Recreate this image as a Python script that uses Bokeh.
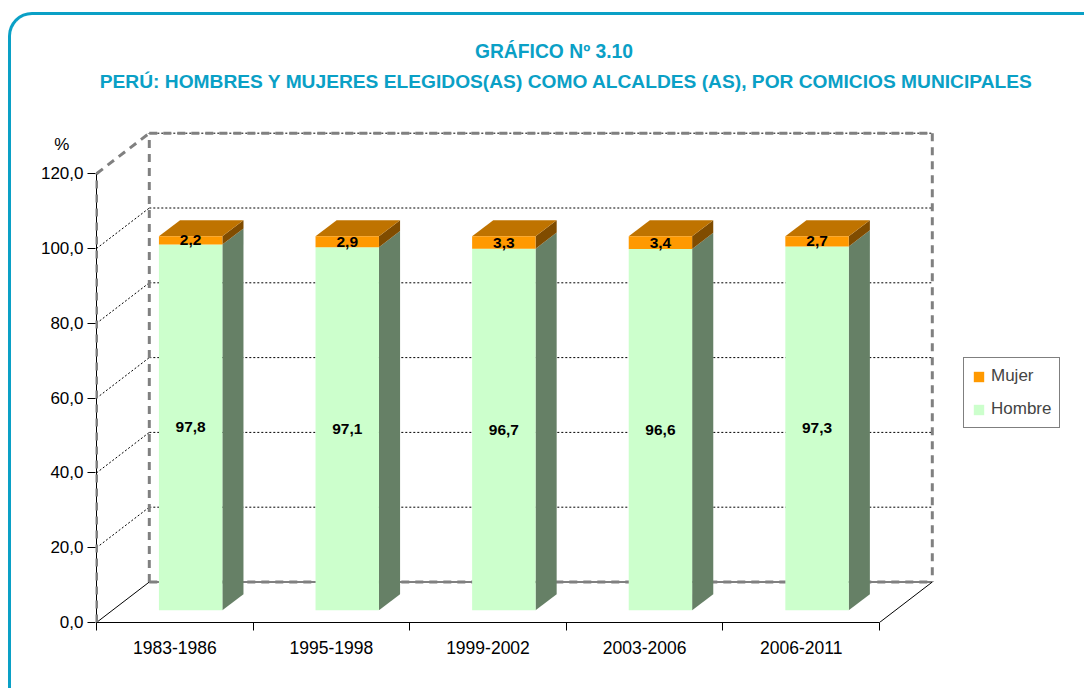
from bokeh.plotting import figure
from bokeh.models import (Range1d, FixedTicker, CustomJSTickFormatter, Label, Legend,
                          LegendItem, ColumnDataSource)
from bokeh.core.properties import value
from bokeh.embed import file_html
from bokeh.resources import INLINE

# ---------------- data ----------------
categories = ["1983-1986", "1995-1998", "1999-2002", "2003-2006", "2006-2011"]
hombre = [97.8, 97.1, 96.7, 96.6, 97.3]
mujer = [2.2, 2.9, 3.3, 3.4, 2.7]
y_ticks = [0, 20, 40, 60, 80, 100, 120]
series_names = ["Mujer", "Hombre"]
title1 = "GRÁFICO Nº 3.10"
title2 = "PERÚ: HOMBRES Y MUJERES ELEGIDOS(AS) COMO ALCALDES (AS), POR COMICIOS MUNICIPALES"
unit_label = "%"

# ---------------- geometry / style ----------------
OX, OY = 11, 15        # canvas origin inside the page frame (px)
W, H = 1076, 676
FRAME_L, FRAME_B = 95, 622     # page px
ML = FRAME_L - OX
MB = (OY + H) - FRAME_B
PX_X = 156.6           # px per category
PX_Y = 3.74            # px per percent
X0_PAGE = 96           # page x of category 0
DX = 52.8 / PX_X       # depth offset (category units)
DY = 40.5 / PX_Y       # depth offset (percent units)
F0, F1 = 0.3, 0.7      # bar depth span
HW = 0.2025            # half bar width
FONT = "Liberation Sans"
TEAL = "#0aa0c6"

n = len(categories)
x_start = -(X0_PAGE - FRAME_L) / PX_X
x_end = (OX + W - X0_PAGE) / PX_X
y_end = (FRAME_B - OY) / PX_Y
ymax = y_ticks[-1]
pct_pos = (FRAME_B - 143.5) / PX_Y

p = figure(width=W, height=H, x_range=Range1d(x_start, x_end), y_range=Range1d(0, y_end),
           output_backend="svg", toolbar_location=None,
           min_border_left=ML, min_border_right=0, min_border_top=0, min_border_bottom=MB,
           outline_line_color=None, background_fill_color=None, border_fill_color=None,
           styles={"border-left": f"3px solid {TEAL}", "border-top": f"3px solid {TEAL}",
                   "border-top-left-radius": "24px", "margin-left": "8px",
                   "margin-top": "12px"})
p.xgrid.visible = False
p.ygrid.visible = False

# y axis (minor ticks act as the visible tick marks; the extra major tick carries "%")
p.yaxis.ticker = FixedTicker(ticks=y_ticks + [pct_pos], minor_ticks=y_ticks)
p.yaxis.formatter = CustomJSTickFormatter(
    args=dict(lim=ymax + 1, unit=unit_label),
    code="return tick > lim ? unit + '\\u00a0\\u00a0\\u00a0' : tick.toFixed(1).replace('.', ',')")
p.yaxis.bounds = (0, pct_pos)
p.yaxis.major_tick_out = 0
p.yaxis.major_tick_in = 0
p.yaxis.minor_tick_out = 8
p.yaxis.minor_tick_in = 0
p.yaxis.minor_tick_line_color = "black"
p.yaxis.major_label_standoff = 4
p.yaxis.major_label_text_font = FONT
p.yaxis.major_label_text_font_size = "17px"
p.yaxis.major_label_text_color = "black"
p.yaxis.axis_line_color = None

# x axis (labels centred, tick marks at category boundaries)
p.xaxis.ticker = FixedTicker(ticks=[i + 0.5 for i in range(n)], minor_ticks=list(range(n + 1)))
p.xaxis.major_label_overrides = {i + 0.5: c for i, c in enumerate(categories)}
p.xaxis.bounds = (0, n)
p.xaxis.major_tick_out = 0
p.xaxis.major_tick_in = 0
p.xaxis.minor_tick_out = 8
p.xaxis.minor_tick_in = 0
p.xaxis.minor_tick_line_color = "black"
p.xaxis.major_label_standoff = 10
p.xaxis.major_label_text_font = FONT
p.xaxis.major_label_text_font_size = "17.5px"
p.xaxis.major_label_text_color = "black"
p.xaxis.axis_line_color = "black"

# ---------------- walls ----------------
grid_vals = [v for v in y_ticks if 0 < v]
p.segment(x0=[DX] * len(grid_vals), y0=[v + DY for v in grid_vals],
          x1=[n + DX] * len(grid_vals), y1=[v + DY for v in grid_vals],
          line_color="black", line_width=1, line_dash="2 2")
mid_vals = [v for v in y_ticks if 0 < v < ymax]
p.segment(x0=[0] * len(mid_vals), y0=mid_vals, x1=[DX] * len(mid_vals),
          y1=[v + DY for v in mid_vals], line_color="black", line_width=1, line_dash="2 2")
# floor edges and front value axis line
p.segment(x0=[0, n, DX, 0], y0=[0, 0, DY, 0], x1=[DX, n + DX, n + DX, 0],
          y1=[DY, DY, DY, ymax], line_color="black", line_width=1)
# wall outline (thick grey dashed)
ex0 = [DX, DX, n + DX, 0, DX, 0]
ey0 = [DY, ymax + DY, ymax + DY, ymax, DY, 0]
ex1 = [DX, n + DX, n + DX, DX, n + DX, 0]
ey1 = [ymax + DY, ymax + DY, DY, ymax + DY, DY, ymax]
p.segment(x0=ex0, y0=ey0, x1=ex1, y1=ey1, line_color="#808080", line_width=3,
          line_dash="8 6")

# ---------------- bars ----------------
dd = F1 - F0
cx = [i + 0.5 + F0 * DX for i in range(n)]
left = [c - HW for c in cx]
right = [c + HW for c in cx]
base = F0 * DY
h_top = [h + base for h in hombre]
m_top = [h + m + base for h, m in zip(hombre, mujer)]

h_src = ColumnDataSource(dict(left=left, right=right, bottom=[base] * n, top=h_top))
m_src = ColumnDataSource(dict(left=left, right=right, bottom=h_top, top=m_top))


def side(bots, tops):
    xs, ys = [], []
    for r, b, t in zip(right, bots, tops):
        xs.append([r, r + dd * DX, r + dd * DX, r])
        ys.append([b, b + dd * DY, t + dd * DY, t])
    return xs, ys


hx, hy = side([base] * n, h_top)
p.patches(xs=hx, ys=hy, fill_color="#668066", line_color=None)
mx, my = side(h_top, m_top)
p.patches(xs=mx, ys=my, fill_color="#804c00", line_color=None)
tx, ty = [], []
for l, r, t in zip(left, right, m_top):
    tx.append([l, l + dd * DX, r + dd * DX, r])
    ty.append([t, t + dd * DY, t + dd * DY, t])
p.patches(xs=tx, ys=ty, fill_color="#bf7300", line_color=None)

h_r = p.quad(left="left", right="right", bottom="bottom", top="top", source=h_src,
             fill_color="#ccffcc", line_color=None)
m_r = p.quad(left="left", right="right", bottom="bottom", top="top", source=m_src,
             fill_color="#ff9900", line_color=None)

# data labels
fmt = lambda v: f"{v:.1f}".replace(".", ",")
lab_src = ColumnDataSource(dict(
    x=cx + cx,
    y=[h / 2 + base for h in hombre] + [h + m / 2 + base for h, m in zip(hombre, mujer)],
    t=[fmt(v) for v in hombre] + [fmt(v) for v in mujer]))
p.text(x="x", y="y", text="t", source=lab_src, text_font=value(FONT),
       text_font_style="bold", text_font_size="15.5px", text_align="center",
       text_baseline="middle", text_color="black")

# ---------------- legend ----------------
legend = Legend(items=[LegendItem(label=series_names[0], renderers=[m_r]),
                       LegendItem(label=series_names[1], renderers=[h_r])],
                location=(963 - FRAME_L, FRAME_B - 428), orientation="vertical",
                label_text_font=FONT, label_text_font_size="17px",
                glyph_width=13, glyph_height=13, label_standoff=6,
                label_height=19, spacing=13, padding=8, margin=0,
                border_line_color="black", border_line_width=1,
                background_fill_color="white")
p.add_layout(legend, "center")

# ---------------- titles ----------------
p.add_layout(Label(x=553.5 - FRAME_L, y=FRAME_B - 50.5, x_units="screen", y_units="screen",
                   text=title1, text_font=FONT, text_font_style="bold",
                   text_font_size="19.3px", text_color=TEAL, text_align="center",
                   text_baseline="middle"))
p.add_layout(Label(x=566 - FRAME_L, y=FRAME_B - 80.5, x_units="screen", y_units="screen",
                   text=title2, text_font=FONT, text_font_style="bold",
                   text_font_size="19.2px", text_color=TEAL, text_align="center",
                   text_baseline="middle"))

open("out.html", "w").write(file_html(p, INLINE))
